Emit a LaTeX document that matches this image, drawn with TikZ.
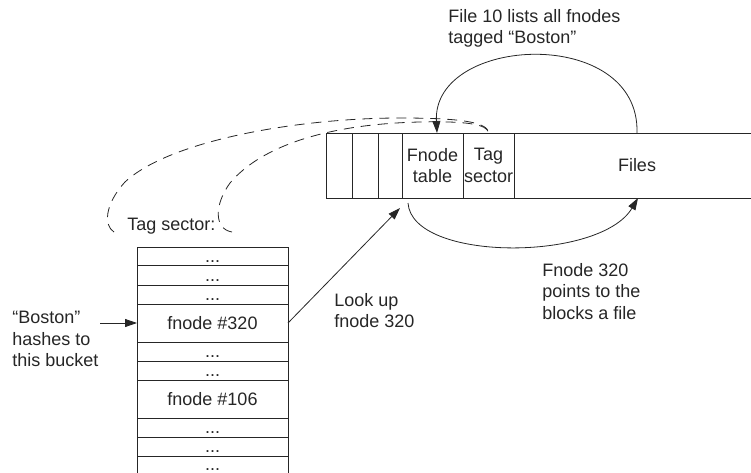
\documentclass[tikz,border=0pt]{standalone}
\usepackage{fontspec}
\setmainfont{Liberation Sans}
\usetikzlibrary{arrows.meta}
\newcommand{\rowdots}{...}

\begin{document}
\begin{tikzpicture}[x=1pt, y=-1pt,
  font=\fontsize{18}{21.5}\selectfont, color=black!85, line width=0.8pt,
  cell/.style={draw, anchor=north west, minimum height=65, inner sep=0, outer sep=0, align=center},
  slot/.style={draw, anchor=north west, minimum width=151, inner sep=0, outer sep=0, text height=14, text depth=2},
  note/.style={anchor=north west, inner sep=0, align=left},
  arr/.style={-{Triangle[length=12pt,width=8pt]}},
  tagdash/.style={dash pattern=on 10pt off 7pt}]

  \useasboundingbox (0,0) rectangle (751,473);

  % The disk layout strip
  \node[cell, minimum width=26] (blk1) at (326,133) {};
  \node[cell, minimum width=26] (blk2) at (352,133) {};
  \node[cell, minimum width=24] (blk3) at (378,133) {};
  \node[cell, minimum width=61] (fnodetab) at (402,133) {Fnode\\table};
  \node[cell, minimum width=51] (tagsec) at (463,133) {Tag\\sector};
  \node[cell, minimum width=246] (files) at (514,133) {Files};

  % The tag sector, one bucket per row
  \foreach \rowname/\rowy/\rowh/\rowtxt in {r1/247/18/\rowdots, r2/265/20/\rowdots, r3/285/19/\rowdots,
      r4/304/38/fnode \#320, r5/342/19/\rowdots, r6/361/19/\rowdots, r7/380/38/fnode \#106,
      r8/418/19/\rowdots, r9/437/19/\rowdots, r10/456/17.5/\rowdots}
    \node[slot, minimum height=\rowh] (\rowname) at (137,\rowy) {\rowtxt};

  % "Boston" goes into its bucket
  \node[note] (hashtxt) at (12,311) {“Boston”\\hashes to\\this bucket};
  \coordinate (hashfrom) at (100,323);
  \draw[arr] (hashfrom) -- (r4.west);

  % Look up the fnode in the fnode table
  \node[note] (lookup) at (334,293) {Look up\\fnode 320};
  \draw[arr] (r4.east) -- ([shift={(-2,10)}]fnodetab.south west);

  % The fnode points to the blocks of the file
  \draw[arr] ([shift={(6,5)}]fnodetab.south west) .. controls (412,262) and (600,262) .. ([xshift=124]files.south west);
  \node[note] (points) at (542,263) {Fnode 320\\points to the\\blocks a file};

  % File 10 lists the fnodes of the tag
  \draw[arr] ([xshift=123]files.north west) .. controls (640,25) and (432,35) .. ([xshift=35]fnodetab.north west);
  \node[note] (file10) at (448,9) {File 10 lists all fnodes\\tagged “Boston”};

  % Call-out from the tag sector cell
  \node[anchor=base west, inner sep=0] (taglbl) at (127,230) {Tag sector:};
  \coordinate (outerend) at (114,232);
  \coordinate (innerend) at (232,232);
  \draw[tagdash] (outerend) .. controls (104,226) and (104,205) .. (125,182)
    .. controls (170,140) and (300,118) .. (400,118)
    .. controls (460,118) and (488,122) .. (tagsec.north);
  \draw[tagdash] (innerend) .. controls (214,229) and (214,205) .. (230,183)
    .. controls (262,145) and (330,124) .. (420,122)
    .. controls (465,121) and (488,124) .. (tagsec.north);

\end{tikzpicture}
\end{document}
